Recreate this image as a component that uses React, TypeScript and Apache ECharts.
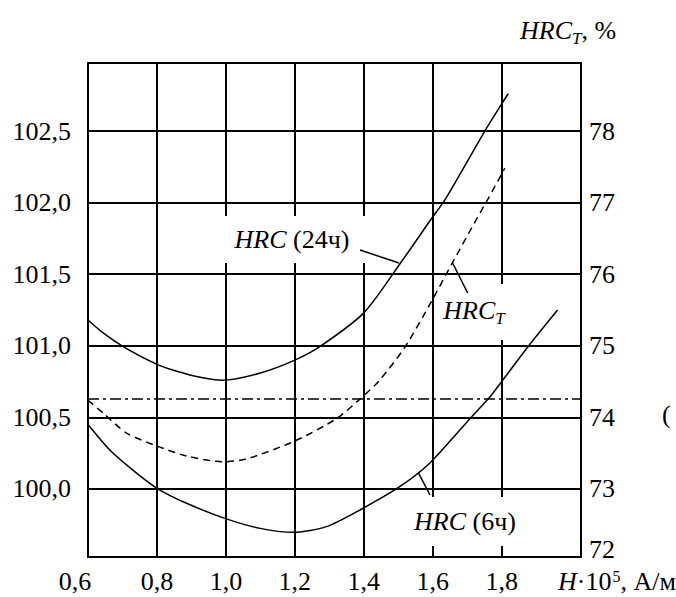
import React, { useEffect, useRef } from 'react';
import * as echarts from 'echarts';

// Axis ticks
const xTicks = [0.6, 0.8, 1.0, 1.2, 1.4, 1.6, 1.8];
const leftTicks = [100.0, 100.5, 101.0, 101.5, 102.0, 102.5];
const rightTicks = [72, 73, 74, 75, 76, 77, 78];

// HRC (24ч) – left axis
const hrc24X = [0.6, 0.644, 0.712, 0.8, 0.86, 0.925, 0.99, 1.1, 1.2, 1.27, 1.4, 1.507, 1.594, 1.638, 1.751, 1.8, 1.819];
const hrc24Y = [101.18, 101.09, 100.98, 100.87, 100.82, 100.78, 100.76, 100.81, 100.9, 100.99, 101.23, 101.58, 101.88, 102.03, 102.5, 102.69, 102.76];

// HRC_T – right axis
const hrcTX = [0.6, 0.644, 0.712, 0.8, 0.886, 0.99, 1.06, 1.2, 1.32, 1.39, 1.446, 1.519, 1.594, 1.657, 1.719, 1.76, 1.8, 1.809];
const hrcTY = [74.24, 74.06, 73.78, 73.6, 73.46, 73.38, 73.42, 73.67, 73.98, 74.26, 74.52, 74.98, 75.6, 76.16, 76.7, 77.05, 77.4, 77.48];

// HRC (6ч) – left axis
const hrc6X = [0.6, 0.664, 0.731, 0.8, 0.886, 0.997, 1.099, 1.195, 1.292, 1.39, 1.504, 1.591, 1.678, 1.717, 1.765, 1.8, 1.875, 1.962];
const hrc6Y = [100.45, 100.27, 100.13, 100.005, 99.9, 99.795, 99.725, 99.697, 99.737, 99.855, 100.016, 100.18, 100.41, 100.515, 100.64, 100.75, 100.99, 101.25];

// Reference level (dash-dot), left axis
const refLevel = 100.625;

// Axis extents
const xMin = 0.6;
const xMax = 2.03;
const leftMin = 99.525;
const leftMax = 102.975;
const toRight = (v: number) => 73 + 2 * (v - 100);
const rightMin = toRight(leftMin);
const rightMax = toRight(leftMax);

const FONT = 'Liberation Serif';
const zip = (xs: number[], ys: number[]) => xs.map((x, i) => [x, ys[i]]);
const fmt = (v: number) => v.toFixed(1).replace('.', ',');

export default function App() {
  const ref = useRef<HTMLDivElement>(null);

  useEffect(() => {
    const chart = echarts.init(ref.current!, null, { renderer: 'svg' });
    const lineBase = { type: 'line', symbol: 'none', smooth: 0.25, z: 5, silent: true };
    const txt = (text: string, x: number, y: number, align = 'center', extra: any = {}) => ({
      type: 'text',
      x,
      y,
      z: 20,
      silent: true,
      style: {
        text,
        fill: '#000',
        fontFamily: FONT,
        fontSize: 26,
        align,
        textAlign: align,
        verticalAlign: 'middle',
        textVerticalAlign: 'middle',
        rich: {
          i: { fontFamily: FONT, fontSize: 26, fontStyle: 'italic', fill: '#000', lineHeight: 28, verticalAlign: 'top' },
          n: { fontFamily: FONT, fontSize: 26, fill: '#000', lineHeight: 28, verticalAlign: 'top' },
          s: { fontFamily: FONT, fontSize: 17, fontStyle: 'italic', fill: '#000', lineHeight: 17, padding: [13, 0, 0, 0], verticalAlign: 'top' },
          p: { fontFamily: FONT, fontSize: 16, fill: '#000', lineHeight: 16, padding: [0, 0, 0, 1], verticalAlign: 'top' },
        },
        ...extra,
      },
    });
    const bg = (x: number, y: number, width: number, height: number) => ({
      type: 'rect',
      z: 3,
      silent: true,
      shape: { x, y, width, height },
      style: { fill: '#fff' },
    });
    const leader = (x1: number, y1: number, x2: number, y2: number) => ({
      type: 'line',
      z: 20,
      silent: true,
      shape: { x1, y1, x2, y2 },
      style: { stroke: '#000', lineWidth: 1.5 },
    });

    chart.setOption({
      animation: false,
      backgroundColor: '#fff',
      textStyle: { fontFamily: FONT },
      grid: {
        left: 88,
        right: 95,
        top: 63,
        bottom: 40,
        show: true,
        borderColor: '#000',
        borderWidth: 2,
        backgroundColor: 'transparent',
      },
      xAxis: {
        type: 'value',
        min: xMin,
        max: xMax,
        axisLine: { show: false },
        axisTick: { show: false, customValues: xTicks },
        axisLabel: {
          customValues: xTicks,
          margin: 11,
          color: '#000',
          fontFamily: FONT,
          fontSize: 26,
          formatter: (v: number) => (Math.abs(v - xTicks[0]) < 1e-6 ? '{a|' + fmt(v) + '}' : fmt(v)),
          rich: { a: { fontFamily: FONT, fontSize: 26, color: '#000', padding: [0, 26, 0, 0] } },
        },
        splitLine: { show: true, lineStyle: { color: '#000', width: 2 } },
      },
      yAxis: [
        {
          type: 'value',
          min: leftMin,
          max: leftMax,
          axisLine: { show: false },
          axisTick: { show: false, customValues: leftTicks },
          axisLabel: {
            customValues: leftTicks,
            margin: 17,
            color: '#000',
            fontFamily: FONT,
            fontSize: 26,
            formatter: (v: number) => fmt(v),
          },
          splitLine: { show: true, lineStyle: { color: '#000', width: 2 } },
        },
        {
          type: 'value',
          position: 'right',
          min: rightMin,
          max: rightMax,
          axisLine: { show: false },
          axisTick: { show: false, customValues: rightTicks.map((v) => Math.max(v, rightMin)) },
          axisLabel: {
            customValues: rightTicks.map((v) => Math.max(v, rightMin)),
            margin: 8,
            color: '#000',
            fontFamily: FONT,
            fontSize: 26,
            formatter: (v: number) =>
              v - rightMin < 0.5 ? '{b|' + Math.round(v) + '}' : String(Math.round(v)),
            rich: { b: { fontFamily: FONT, fontSize: 26, color: '#000', padding: [0, 0, 16, 0] } },
          },
          splitLine: { show: false },
        },
      ],
      series: [
        {
          ...lineBase,
          name: 'HRC (24ч)',
          yAxisIndex: 0,
          data: zip(hrc24X, hrc24Y),
          lineStyle: { color: '#000', width: 1.5 },
          markLine: {
            silent: true,
            symbol: ['none', 'none'],
            label: { show: false },
            lineStyle: { color: '#000', width: 1.5, type: [11, 4, 3, 4] },
            data: [{ yAxis: refLevel }],
          },
        },
        {
          ...lineBase,
          name: 'HRC_T',
          yAxisIndex: 1,
          data: zip(hrcTX, hrcTY),
          lineStyle: { color: '#000', width: 1.5, type: [7, 5] },
        },
        {
          ...lineBase,
          name: 'HRC (6ч)',
          yAxisIndex: 0,
          data: zip(hrc6X, hrc6Y),
          lineStyle: { color: '#000', width: 1.5 },
        },
      ],
      graphic: {
        elements: [
          bg(212, 216, 160, 47),
          bg(446, 284, 66, 56),
          bg(405, 497, 122, 49),
          txt('{i|HRC}{n| (24ч)}', 292, 240),
          txt('{i|HRC}{s|T}', 474, 311),
          txt('{i|HRC}{n| (6ч)}', 465, 522),
          txt('{i|HRC}{s|T}{n|, %}', 520, 31, 'left'),
          txt('{i|H}{n|·10}{p|5}{n|, А/м}', 558, 582, 'left'),
          txt('(', 662, 414, 'left'),
          leader(360, 250, 399, 263),
          leader(452.6, 263, 467.7, 293),
          leader(418.3, 472.7, 430, 495),
        ],
      },
    });
    return () => chart.dispose();
  }, []);

  return (
    <div
      ref={ref}
      style={{ position: 'fixed', left: 0, top: 0, width: 676, height: 597, background: '#fff' }}
    />
  );
}
